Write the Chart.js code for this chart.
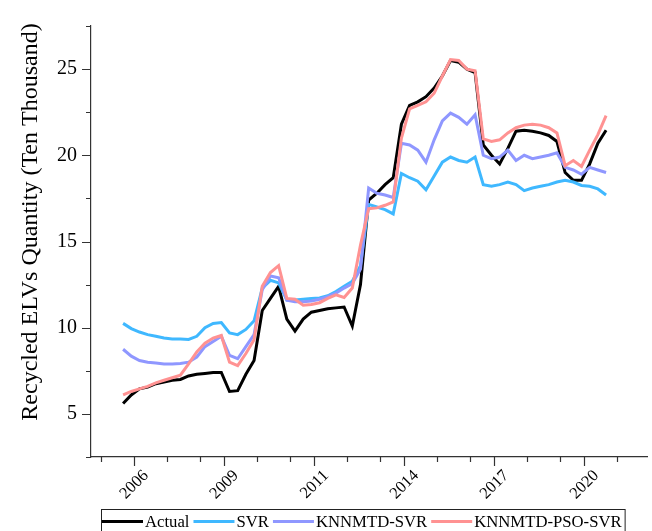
<!DOCTYPE html>
<html>
<head>
<meta charset="utf-8">
<script src="https://cdn.jsdelivr.net/npm/chart.js@4.4.0/dist/chart.umd.min.js"></script>
<style>
  html, body { margin: 0; padding: 0; background: #fff; }
</style>
</head>
<body>
<canvas id="elv-graph" width="652" height="531"></canvas>
<script>
// values, one point per period
const actual = [5.6, 6.1, 6.45, 6.55, 6.75, 6.85, 6.95, 7.0, 7.2, 7.3,
    7.35, 7.4, 7.4, 6.3, 6.35, 7.3, 8.1, 11.0, 11.7, 12.4,
    10.5, 9.8, 10.5, 10.9, 11.0, 11.1, 11.15, 11.2, 10.1, 12.5,
    17.4, 17.8, 18.3, 18.7, 21.8, 22.9, 23.1, 23.4, 23.9, 24.6,
    25.5, 25.4, 25.0, 24.8, 20.6, 20.0, 19.5, 20.4, 21.4, 21.45,
    21.4, 21.3, 21.15, 20.8, 19.0, 18.55, 18.55, 19.5, 20.7, 21.45];
const svr = [10.25, 9.95, 9.75, 9.6, 9.5, 9.4, 9.35, 9.35, 9.32, 9.5,
    10.0, 10.25, 10.3, 9.7, 9.6, 9.9, 10.4, 12.3, 12.75, 12.6,
    11.6, 11.6, 11.65, 11.7, 11.72, 11.85, 12.1, 12.4, 12.7, 13.6,
    17.15, 17.0, 16.85, 16.6, 18.95, 18.7, 18.5, 18.0, 18.8, 19.6,
    19.9, 19.7, 19.6, 19.9, 18.3, 18.2, 18.3, 18.45, 18.3, 17.95,
    18.1, 18.2, 18.3, 18.45, 18.55, 18.45, 18.25, 18.2, 18.05, 17.7];
const knnSvr = [8.75, 8.35, 8.1, 8.0, 7.95, 7.9, 7.9, 7.92, 8.0, 8.3,
    8.9, 9.2, 9.5, 8.4, 8.2, 8.9, 9.6, 12.2, 13.0, 12.9,
    11.6, 11.5, 11.5, 11.55, 11.65, 11.8, 12.0, 12.3, 12.55, 13.4,
    18.1, 17.8, 17.7, 17.55, 20.7, 20.6, 20.3, 19.6, 20.9, 22.0,
    22.45, 22.2, 21.8, 22.35, 20.0, 19.8, 19.9, 20.3, 19.7, 20.0,
    19.8, 19.9, 20.0, 20.15, 19.3, 19.15, 18.9, 19.3, 19.15, 19.0];
const knnPsoSvr = [6.1, 6.3, 6.45, 6.6, 6.8, 6.95, 7.1, 7.25, 7.9, 8.6,
    9.1, 9.4, 9.55, 8.0, 7.8, 8.5, 9.3, 12.4, 13.2, 13.6,
    11.7, 11.65, 11.3, 11.35, 11.45, 11.7, 11.9, 11.75, 12.3, 14.8,
    16.9, 16.95, 17.1, 17.3, 21.0, 22.7, 22.9, 23.1, 23.6, 24.6,
    25.55, 25.5, 25.0, 24.9, 20.95, 20.8, 20.9, 21.3, 21.6, 21.75,
    21.8, 21.75, 21.6, 21.3, 19.4, 19.7, 19.35, 20.3, 21.2, 22.3];

const seriesNames = ['Actual', 'SVR', 'KNNMTD-SVR', 'KNNMTD-PSO-SVR'];
const seriesColors = ['#000000', '#3fb8ff', '#8f97ff', '#ff9292'];

const xTickPos = [1.34, 12.34, 23.34, 34.34, 45.34, 56.34];
const xTickLabels = ['2006', '2009', '2011', '2014', '2017', '2020'];
const xMinorPos = [-2.66, 5.34, 9.34, 16.34, 20.34, 27.34, 31.34, 38.34, 42.34, 49.34, 53.34, 60.34];
const yTickPos = [5, 10, 15, 20, 25];
const yMinorPos = [2.5, 7.5, 12.5, 17.5, 22.5, 27.5];
const yTitle = 'Recycled ELVs Quantity (Ten Thousand)';

const serif = '"Times New Roman", "Liberation Serif", serif';

function toPoints(values){
    return values.map((v, i) => ({x: i, y: v}));
}

// tick marks, axis title and the boxed legend
const axisExtras = {
    id: 'axisExtras',
    afterDraw(chart){
        const ctx = chart.ctx;
        const xs = chart.scales.x;
        const ys = chart.scales.y;
        const area = chart.chartArea;

        ctx.save();
        ctx.strokeStyle = '#333';
        ctx.lineWidth = 1.2;
        ctx.beginPath();
        xTickPos.forEach(v => {
            const px = Math.round(xs.getPixelForValue(v)) + 0.5;
            ctx.moveTo(px, area.bottom); ctx.lineTo(px, area.bottom + 9);
        });
        xMinorPos.forEach(v => {
            const px = Math.round(xs.getPixelForValue(v)) + 0.5;
            ctx.moveTo(px, area.bottom); ctx.lineTo(px, area.bottom + 5);
        });
        yTickPos.forEach(v => {
            const py = Math.round(ys.getPixelForValue(v)) + 0.5;
            ctx.moveTo(area.left, py); ctx.lineTo(area.left - 9, py);
        });
        yMinorPos.forEach(v => {
            const py = Math.round(ys.getPixelForValue(v)) + 0.5;
            ctx.moveTo(area.left, py); ctx.lineTo(area.left - 5, py);
        });
        ctx.stroke();

        ctx.fillStyle = '#000';
        ctx.font = '24px ' + serif;
        ctx.textAlign = 'center';
        ctx.textBaseline = 'middle';
        ctx.translate(31, 222);
        ctx.rotate(-Math.PI / 2);
        ctx.fillText(yTitle, 0, 0);
        ctx.restore();

        // legend
        ctx.save();
        ctx.font = '16.7px ' + serif;
        ctx.textBaseline = 'alphabetic';
        ctx.textAlign = 'left';
        let x = 102;
        const lineY = 521.5;
        chart.data.datasets.forEach(ds => {
            ctx.strokeStyle = ds.borderColor;
            ctx.lineWidth = 3;
            ctx.beginPath();
            ctx.moveTo(x, lineY); ctx.lineTo(x + 41, lineY);
            ctx.stroke();
            ctx.fillStyle = '#000';
            ctx.fillText(ds.label, x + 43, 527);
            x += 43 + ctx.measureText(ds.label).width + 4;
        });
        ctx.strokeStyle = '#222';
        ctx.lineWidth = 1;
        ctx.strokeRect(101.5, 509.5, x - 102, 40);
        ctx.restore();
    }
};

const lists = [actual, svr, knnSvr, knnPsoSvr];

new Chart("elv-graph", {
    type: 'line',
    data: {
        datasets: lists.map((vals, i) => ({
            label: seriesNames[i],
            data: toPoints(vals),
            borderColor: seriesColors[i],
            backgroundColor: seriesColors[i],
            borderWidth: 3,
            pointRadius: 0,
            tension: 0,
            fill: false,
            order: 4 - i
        }))
    },
    options: {
        responsive: false,
        animation: false,
        devicePixelRatio: 1,
        layout: { padding: { top: 10, right: 5, left: 0, bottom: 0 } },
        plugins: {
            legend: { display: false },
            tooltip: { enabled: false }
        },
        scales: {
            x: {
                type: 'linear',
                min: -3.92,
                max: 64,
                afterFit: s => { s.height = 74; },
                afterBuildTicks: s => { s.ticks = xTickPos.map(v => ({value: v})); },
                grid: { display: false, drawTicks: false },
                border: { display: true, color: '#333', width: 1.2 },
                ticks: {
                    autoSkip: false,
                    minRotation: 45,
                    maxRotation: 45,
                    padding: 9,
                    labelOffset: 12,
                    color: '#000',
                    font: { family: serif, size: 16.5 },
                    callback: (v, i) => xTickLabels[i]
                }
            },
            y: {
                min: 2.5,
                max: 27.5,
                afterFit: s => { s.width = 91; },
                afterBuildTicks: s => { s.ticks = yTickPos.map(v => ({value: v})); },
                grid: { display: false, drawTicks: false },
                border: { display: true, color: '#333', width: 1.2 },
                ticks: {
                    padding: 14,
                    color: '#000',
                    font: { family: serif, size: 20 }
                }
            }
        }
    },
    plugins: [axisExtras]
});
</script>
</body>
</html>
